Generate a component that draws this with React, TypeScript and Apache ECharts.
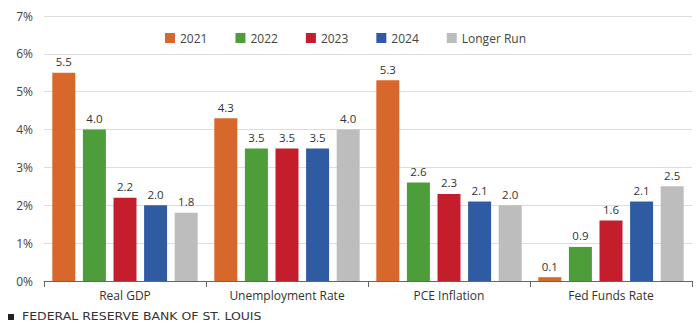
import React, { useEffect, useRef } from "react";
import * as echarts from "echarts";

const categories = ["Real GDP", "Unemployment Rate", "PCE Inflation", "Fed Funds Rate"];
const seriesNames = ["2021", "2022", "2023", "2024", "Longer Run"];
const v2021 = [5.5, 4.3, 5.3, 0.1];
const v2022 = [4.0, 3.5, 2.6, 0.9];
const v2023 = [2.2, 3.5, 2.3, 1.6];
const v2024 = [2.0, 3.5, 2.1, 2.1];
const vLonger = [1.8, 4.0, 2.0, 2.5];
const colors = ["#D8672B", "#4D9E3A", "#C41E2C", "#2F5BA3", "#BDBDBD"];
const footer = "FEDERAL RESERVE BANK OF ST. LOUIS";

const FONT = "'Open Sans', 'Noto Sans', sans-serif";

export default function App() {
  const ref = useRef<HTMLDivElement>(null);
  useEffect(() => {
    if (!ref.current) return;
    const chart = echarts.init(ref.current, null, { renderer: "svg" });
    const allValues = [v2021, v2022, v2023, v2024, vLonger];
    chart.setOption({
      animation: false,
      textStyle: { fontFamily: FONT },
      legend: {
        top: 27,
        left: 160,
        itemWidth: 10,
        itemHeight: 10,
        itemGap: 28,
        icon: "rect",
        textStyle: { fontSize: 12, color: "#444", fontFamily: FONT },
        data: seriesNames,
      },
      grid: { left: 44, right: 8, top: 16, bottom: 43 },
      xAxis: {
        type: "category",
        data: categories,
        axisLine: { show: true, lineStyle: { color: "#666", width: 1 } },
        axisTick: { show: true, length: 6, lineStyle: { color: "#666" } },
        axisLabel: { color: "#333", fontSize: 12, margin: 8, fontFamily: FONT },
      },
      yAxis: {
        type: "value",
        min: 0,
        max: 7,
        interval: 1,
        axisLine: { show: false },
        axisTick: { show: false },
        splitLine: { lineStyle: { color: "#DDDDDD", width: 1 } },
        axisLabel: {
          formatter: "{value}%",
          color: "#444",
          fontSize: 12,
          margin: 11,
          fontFamily: FONT,
        },
      },
      series: seriesNames.map((name, i) => ({
        name,
        type: "bar",
        data: allValues[i],
        barWidth: 23,
        barGap: "33%",
        itemStyle: { color: colors[i] },
        label: {
          show: true,
          position: "top",
          distance: 5,
          color: "#333",
          fontSize: 11.5,
          fontFamily: FONT,
          formatter: (p: any) => Number(p.value).toFixed(1),
        },
      })),
      graphic: [
        {
          type: "rect",
          left: 8,
          top: 314,
          shape: { width: 6, height: 6 },
          style: { fill: "#222" },
        },
        {
          type: "text",
          x: 22,
          y: 317,
          scaleX: 1.25,
          style: {
            text: footer,
            fill: "#333",
            font: `10px 'DejaVu Sans', sans-serif`,
            verticalAlign: "middle",
          },
        },
      ],
    });
    return () => chart.dispose();
  }, []);
  return <div ref={ref} style={{ width: 700, height: 324, position: "absolute", left: 0, top: 0 }} />;
}
